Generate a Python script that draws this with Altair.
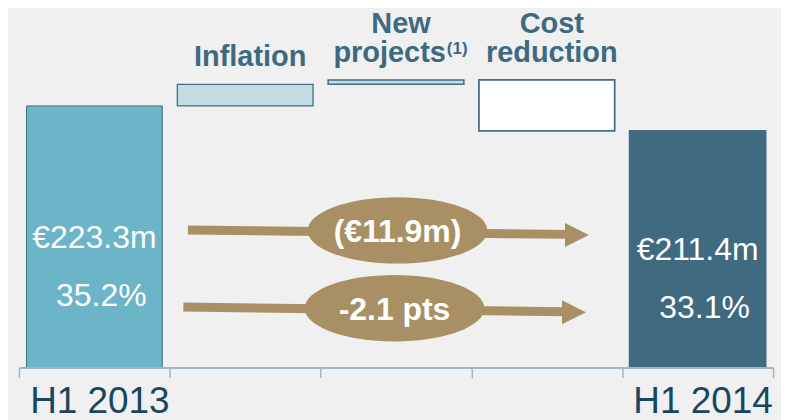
import altair as alt
import pandas as pd

# ---- data ----
categories = ["H1 2013", "Inflation", "New projects", "Cost reduction", "H1 2014"]
opening = 223.3
closing = 211.4
steps = [10.3, 2.1, -24.3]          # inflation, new projects, cost reduction (€m)
amount_labels = ["€223.3m", "€211.4m"]
margin_labels = ["35.2%", "33.1%"]
top_line1 = ["", "", "New", "Cost", ""]
top_line2 = ["", "Inflation", "projects", "reduction", ""]
bubble_text = ["(€11.9m)", "-2.1 pts"]

# annotation placement: x in category units (0..5), y in €m units
arrow_x0 = [1.12, 1.09]
arrow_x1 = [3.64, 3.62]
arrow_y0 = [164.1, 127.3]
arrow_y1 = [162.0, 125.1]
head_x = [3.70, 3.68]
head_y = [161.7, 124.8]
bubble_x = [2.51, 2.49]
bubble_y = [163.9, 126.7]

AXIS_MIN = 98.4
AXIS_MAX = 269.8

# ---- styles ----
FONT = "Liberation Sans"
BG = "#f0f0f0"
TEAL = "#3d6a80"
TAN = "#a89064"
fills = ["#6cb4c8", "#c3dce1", "#c3dce1", "#ffffff", "#3f6a80"]
stroke_w = [1, 2, 2, 2, 0]

# ---- build tables ----
levels = [opening]
for s in steps:
    levels.append(levels[-1] + s)
lo = [AXIS_MIN] + levels[:-1] + [AXIS_MIN]
hi = [opening] + levels[1:] + [closing]
bars = pd.DataFrame({
    "cat": categories,
    "lo": lo,
    "hi": hi,
    "top": [max(a, b) for a, b in zip(lo, hi)],
    "mid": [(a + b) / 2 for a, b in zip(lo, hi)],
    "l1": top_line1,
    "l2": top_line2,
})
totals = bars[bars["cat"].isin(["H1 2013", "H1 2014"])].copy()
totals["amount"] = amount_labels
totals["margin"] = margin_labels

ann = pd.DataFrame({
    "ax0": arrow_x0, "ax1": arrow_x1, "ay0": arrow_y0, "ay1": arrow_y1,
    "hx": head_x, "hy": head_y, "bx": bubble_x, "by": bubble_y,
    "txt": bubble_text,
})

yscale = alt.Scale(domain=[AXIS_MIN, AXIS_MAX], nice=False, zero=False)
xband = alt.Scale(domain=categories, paddingInner=0, paddingOuter=0)
xq = alt.Scale(domain=[0, 5], nice=False, zero=False)

label_expr = "datum.label == 'H1 2013' || datum.label == 'H1 2014' ? datum.label : ''"

base = alt.Chart(bars)

bar_layer = base.mark_bar(stroke="#416c83", width=alt.RelativeBandSize(0.9)).encode(
    x=alt.X("cat:N", scale=xband, sort=categories,
            axis=alt.Axis(title=None, tickBand="extent", labelExpr=label_expr,
                          labelAngle=0, labelFont=FONT, labelFontSize=37,
                          labelColor="#17475f", labelPadding=6, labelOffset=5,
                          tickSize=10, tickColor="#a3b5c3", tickWidth=1.5,
                          domainColor="#a3b5c3", domainWidth=2, zindex=1)),
    y=alt.Y("lo:Q", scale=yscale, axis=None),
    y2="hi:Q",
    fill=alt.Fill("cat:N", scale=alt.Scale(domain=categories, range=fills), legend=None),
    strokeWidth=alt.StrokeWidth("cat:N", scale=alt.Scale(domain=categories, range=stroke_w), legend=None),
)

def xb():
    return alt.X("cat:N", scale=xband, sort=categories, axis=None)

line1 = base.transform_filter("datum.l1 != ''").mark_text(
    font=FONT, fontSize=29, fontWeight="bold", color=TEAL, dy=-47, dx=5, baseline="alphabetic"
).encode(x=xb(), y=alt.Y("top:Q", scale=yscale, axis=None), text="l1:N")

line2 = base.transform_filter("datum.l2 != '' && datum.l2 != 'projects'").mark_text(
    font=FONT, fontSize=29, fontWeight="bold", color=TEAL, dy=-18, dx=5, baseline="alphabetic"
).encode(x=xb(), y=alt.Y("top:Q", scale=yscale, axis=None), text="l2:N")

proj = base.transform_filter("datum.l2 == 'projects'").mark_text(
    font=FONT, fontSize=29, fontWeight="bold", color=TEAL, dy=-18, dx=50,
    align="right", baseline="alphabetic"
).encode(x=xb(), y=alt.Y("top:Q", scale=yscale, axis=None), text="l2:N")

sup = base.transform_filter("datum.l2 == 'projects'").mark_text(
    font=FONT, fontSize=17, fontWeight="bold", color=TEAL, dy=-26, dx=51,
    align="left", baseline="alphabetic", text="(1)"
).encode(x=xb(), y=alt.Y("top:Q", scale=yscale, axis=None))

tbase = alt.Chart(totals)
amt = tbase.mark_text(font=FONT, fontSize=32, color="white", dy=11, baseline="alphabetic").encode(
    x=xb(), y=alt.Y("mid:Q", scale=yscale, axis=None), text="amount:N")
mrg = tbase.mark_text(font=FONT, fontSize=32, color="white", dy=69, dx=7, baseline="alphabetic").encode(
    x=xb(), y=alt.Y("mid:Q", scale=yscale, axis=None), text="margin:N")

abase = alt.Chart(ann)
rules = abase.mark_rule(color=TAN, strokeWidth=9, strokeCap="butt").encode(
    x=alt.X("ax0:Q", scale=xq, axis=None), x2="ax1:Q",
    y=alt.Y("ay0:Q", scale=yscale, axis=None), y2="ay1:Q")
heads = abase.mark_point(shape="M -1 -1 L 1 0 L -1 1 Z", size=576, filled=True,
                         color=TAN, opacity=1, strokeWidth=0).encode(
    x=alt.X("hx:Q", scale=xq, axis=None), y=alt.Y("hy:Q", scale=yscale, axis=None))
ellipse = abase.mark_point(shape="M -1 0 A 1 0.37 0 1 1 1 0 A 1 0.37 0 1 1 -1 0 Z",
                           size=32400, filled=True, color=TAN, opacity=1, strokeWidth=0).encode(
    x=alt.X("bx:Q", scale=xq, axis=None), y=alt.Y("by:Q", scale=yscale, axis=None))
btxt = abase.mark_text(font=FONT, fontSize=32, fontWeight="bold", color="white", dy=12,
                       baseline="alphabetic").encode(
    x=alt.X("bx:Q", scale=xq, axis=None), y=alt.Y("by:Q", scale=yscale, axis=None), text="txt:N")

chart = alt.layer(
    bar_layer, line1, line2, proj, sup, amt, mrg, rules, heads, ellipse, btxt
).resolve_scale(x="independent").properties(
    width=756, height=360,
    padding={"left": 10, "top": 0, "right": 7, "bottom": 0},
    background=BG,
).configure_view(stroke=None)

chart.save("out.html", embed_options={"renderer": "svg", "actions": False})
